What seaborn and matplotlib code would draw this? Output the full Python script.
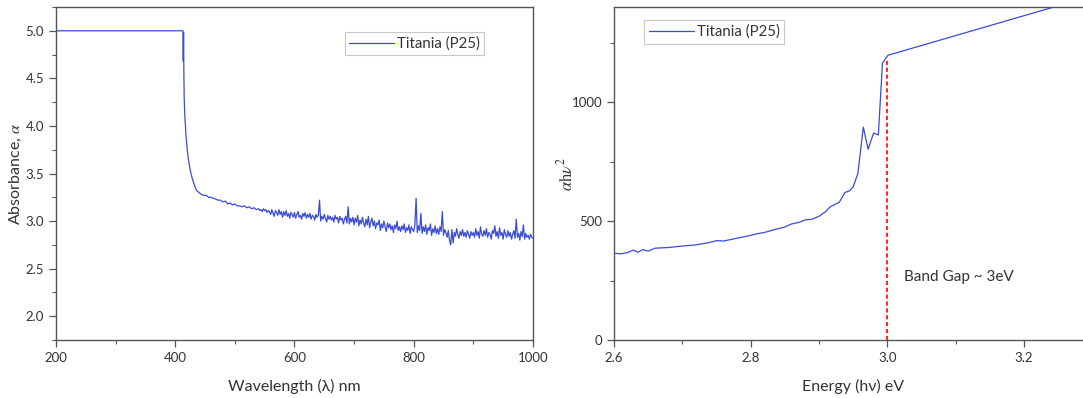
import numpy as np
import matplotlib
matplotlib.use("Agg")
import matplotlib.pyplot as plt
import seaborn as sns
import pandas as pd

sns.set_style("ticks")
plt.rcParams["font.family"] = ["Lato", "DejaVu Sans"]
plt.rcParams["mathtext.fontset"] = "stix"

# ---- UV-Vis absorbance spectrum ----
edge_wl = [200, 413, 413.5, 414, 414.5, 415, 416, 418, 420, 422, 425, 428, 430, 433, 436, 438]
edge_abs = [5.0, 5.0, 4.68, 4.98, 4.55, 4.30, 4.12, 3.90, 3.76, 3.65, 3.54, 3.46, 3.42, 3.36, 3.32, 3.31]

# coarse part of the scan (4 nm step)
tail_wl = np.arange(440, 537, 4)
tail_abs = [
    3.30, 3.28, 3.27, 3.27, 3.25, 3.25, 3.24, 3.23, 3.22, 3.22,
    3.20, 3.21, 3.18, 3.19, 3.17, 3.18, 3.16, 3.16, 3.15, 3.16,
    3.14, 3.15, 3.13, 3.14, 3.12,
]

# noisy part of the scan (2 nm step)
scan_wl = np.arange(540, 1001, 2)
scan_abs = [
    3.13, 3.11, 3.12, 3.10, 3.13, 3.11, 3.12, 3.09, 3.11, 3.10,
    3.07, 3.12, 3.08, 3.05, 3.11, 3.09, 3.06, 3.12, 3.07, 3.10,
    3.04, 3.10, 3.06, 3.11, 3.05, 3.08, 3.03, 3.09, 3.07, 3.04,
    3.09, 3.03, 3.07, 3.10, 3.04, 3.06, 3.02, 3.08, 3.05, 3.09,
    3.03, 3.07, 3.04, 3.08, 3.02, 3.06, 3.05, 3.01, 3.07, 3.04,
    3.06, 3.22, 3.00, 3.05, 3.02, 3.07, 3.03, 2.99, 3.06, 3.02,
    3.05, 3.01, 3.04, 2.99, 3.06, 3.02, 3.04, 2.98, 3.05, 3.01,
    3.03, 2.97, 3.02, 3.05, 2.98, 3.15, 2.97, 3.03, 2.99, 3.04,
    2.96, 3.03, 2.99, 3.06, 2.95, 3.01, 2.97, 3.04, 2.98, 2.94,
    3.02, 2.96, 3.05, 2.93, 2.99, 3.03, 2.95, 3.00, 2.92, 2.98,
    2.96, 3.01, 2.90, 2.97, 2.93, 3.00, 2.94, 2.89, 2.98, 2.93,
    2.97, 2.91, 2.95, 2.88, 2.96, 2.92, 3.00, 2.90, 2.94, 2.89,
    2.95, 2.91, 2.97, 2.88, 2.93, 2.90, 2.96, 2.87, 2.94, 2.91,
    2.89, 2.96, 3.24, 2.88, 2.95, 2.90, 3.08, 2.87, 2.94, 2.89,
    2.96, 2.86, 2.93, 2.90, 2.97, 2.85, 2.92, 2.88, 2.95, 2.87,
    2.92, 2.86, 2.94, 2.89, 3.10, 2.85, 2.91, 2.88, 2.83, 2.90,
    2.80, 2.75, 2.91, 2.77, 2.88, 2.84, 2.92, 2.86, 2.82, 2.89,
    2.85, 2.91, 2.84, 2.88, 2.83, 2.90, 2.86, 2.82, 2.89, 2.85,
    2.88, 2.83, 2.92, 2.85, 2.89, 2.82, 2.94, 2.86, 2.84, 2.90,
    2.85, 2.92, 2.83, 2.88, 2.86, 2.81, 2.90, 2.87, 2.95, 2.84,
    2.89, 2.82, 2.93, 2.85, 2.88, 2.81, 2.91, 2.86, 2.83, 2.90,
    2.84, 2.88, 2.81, 2.86, 2.90, 2.82, 3.02, 2.83, 2.87, 2.80,
    2.89, 2.84, 2.96, 2.81, 2.87, 2.83, 2.85, 2.81, 2.86, 2.83,
    2.82,
]

# ---- Tauc plot ----
energy = [2.600, 2.610, 2.620, 2.628, 2.635, 2.642, 2.650, 2.660, 2.680, 2.700,
          2.720, 2.740, 2.750, 2.760, 2.780, 2.800, 2.810, 2.820, 2.840, 2.850,
          2.860, 2.870, 2.880, 2.890, 2.900, 2.910, 2.916, 2.930, 2.938, 2.945,
          2.950, 2.957, 2.965, 2.972, 2.980, 2.987, 2.993, 3.001, 3.250]
tauc = [365, 362, 368, 378, 369, 380, 374, 386, 389, 395,
        400, 410, 418, 416, 428, 440, 447, 452, 468, 475,
        488, 494, 505, 508, 520, 540, 559, 580, 620, 628,
        643, 700, 895, 802, 870, 862, 1164, 1197, 1405]

band_gap = 3.0
band_gap_top = 1180
series_name = "Titania (P25)"

spec = pd.DataFrame({"wavelength": list(edge_wl) + list(tail_wl) + list(scan_wl),
                     "absorbance": edge_abs + tail_abs + scan_abs})
tauc_df = pd.DataFrame({"energy": energy, "tauc": tauc})

line_color = "#3a4bd9"
ink = "#333333"

fig = plt.figure(figsize=(10.83, 3.98), dpi=100)
ax1 = fig.add_axes([0.0517, 0.1457, 0.4404, 0.8367])
ax2 = fig.add_axes([0.5670, 0.1457, 0.4414, 0.8367])

sns.lineplot(data=spec, x="wavelength", y="absorbance", ax=ax1, color=line_color,
             lw=0.9, label=series_name, sort=False, estimator=None)
sns.lineplot(data=tauc_df, x="energy", y="tauc", ax=ax2, color=line_color,
             lw=0.9, label=series_name, sort=False, estimator=None)

ax1.set_xlim(200, 1000)
ax1.set_ylim(1.75, 5.25)
ax1.set_xticks([200, 400, 600, 800, 1000])
ax1.set_xticks([300, 500, 700, 900], minor=True)
ax1.set_yticks([2.0, 2.5, 3.0, 3.5, 4.0, 4.5, 5.0])
ax1.set_yticks(np.arange(1.75, 5.26, 0.25), minor=True)
ax1.set_yticklabels([f"{v:.1f}" for v in [2.0, 2.5, 3.0, 3.5, 4.0, 4.5, 5.0]])
ax1.set_xlabel("Wavelength (λ) nm", fontsize=11.5, color=ink, labelpad=11)
ax1.set_ylabel(r"Absorbance, $\alpha$", fontsize=11.5, color=ink, labelpad=1)

ax2.set_xlim(2.6, 3.3)
ax2.set_ylim(0, 1400)
ax2.set_xticks([2.6, 2.8, 3.0, 3.2])
ax2.set_xticklabels(["2.6", "2.8", "3.0", "3.2"])
ax2.set_xticks([2.7, 2.9, 3.1], minor=True)
ax2.set_yticks([0, 500, 1000])
ax2.set_yticks([250, 750, 1250], minor=True)
ax2.set_xlabel("Energy (hν) eV", fontsize=11.5, color=ink, labelpad=11,
               family=["Lato", "DejaVu Sans"])
ax2.set_ylabel(r"$\alpha\mathrm{h}\nu^{2}$", fontsize=12, color=ink, labelpad=-3)

ax2.vlines(band_gap, 0, band_gap_top, colors="#ff2a2a", linestyles=(0, (2, 1.3)), lw=1.5)
ax2.text(3.024, 265, "Band Gap ~ 3eV", fontsize=11, color=ink, va="center", ha="left")

for ax in (ax1, ax2):
    for s in ax.spines.values():
        s.set_visible(True)
        s.set_color("#555555")
        s.set_linewidth(1.0)
    ax.tick_params(which="major", direction="out", length=5, width=0.9,
                   colors="#555555", labelcolor=ink, labelsize=9.5)
    ax.tick_params(which="minor", direction="out", length=3, width=0.8, colors="#555555")
    ax.tick_params(top=False, right=False, which="both")

leg1 = ax1.legend(loc="upper left", bbox_to_anchor=(0.605, 0.925), fontsize=10.8,
                  frameon=True, fancybox=False, handlelength=3.0, handletextpad=0.2,
                  borderpad=0.3, borderaxespad=0)
leg2 = ax2.legend(loc="upper left", bbox_to_anchor=(0.063, 0.96), fontsize=10.8,
                  frameon=True, fancybox=False, handlelength=3.0, handletextpad=0.2,
                  borderpad=0.3, borderaxespad=0)
for leg in (leg1, leg2):
    leg.get_frame().set_edgecolor("#bbbbbb")
    leg.get_frame().set_linewidth(0.8)
    for t in leg.get_texts():
        t.set_color(ink)

fig.savefig("out.png", dpi=100, facecolor="white")
